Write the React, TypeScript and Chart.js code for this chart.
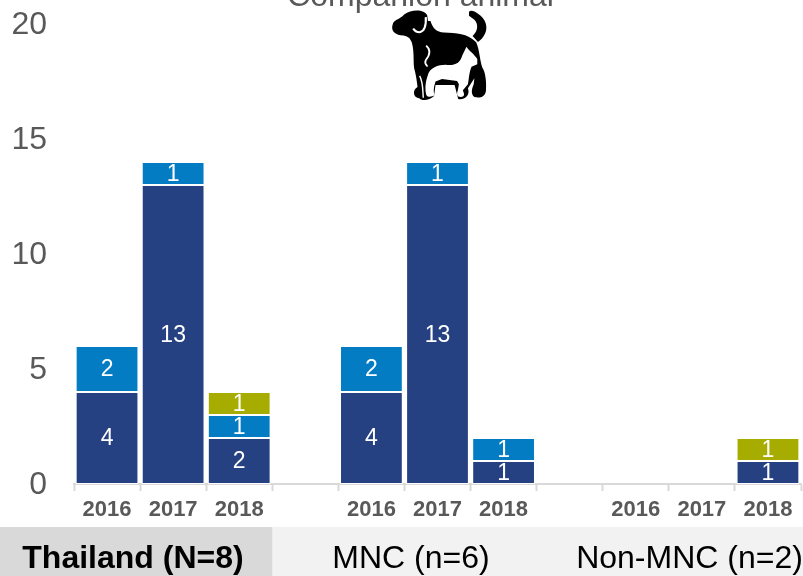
import React, { useEffect, useRef } from "react";
import { Chart, registerables } from "chart.js";

Chart.register(...registerables);

const categories = ["2016", "2017", "2018", "", "2016", "2017", "2018", "", "2016", "2017", "2018"];
const navyValues = [4, 13, 2, null, 4, 13, 1, null, null, null, 1];
const blueValues = [2, 1, 1, null, 2, 1, 1, null, null, null, null];
const oliveValues = [null, null, 1, null, null, null, null, null, null, null, 1];
const yTicks = [0, 5, 10, 15, 20];
const title = "Companion animal";
const groupLabels = ["Thailand (N=8)", "MNC (n=6)", "Non-MNC (n=2)"];

const FONT = '"Liberation Sans", Arial, sans-serif';

const decorPlugin = {
  id: "decor",
  beforeDraw(chart: any) {
    const { ctx } = chart;
    const x = chart.scales.x;
    const split = x.getPixelForValue(2) + (x.getPixelForValue(3) - x.getPixelForValue(2)) / 2;
    ctx.save();
    ctx.fillStyle = "#f2f2f2";
    ctx.fillRect(0, 527, 803, 49);
    ctx.fillStyle = "#d9d9d9";
    ctx.fillRect(0, 527, split, 49);
    ctx.textAlign = "center";
    ctx.textBaseline = "alphabetic";
    ctx.fillStyle = "#000000";
    ctx.font = `bold 32px ${FONT}`;
    ctx.fillText(groupLabels[0], 133, 568);
    ctx.font = `32px ${FONT}`;
    ctx.fillText(groupLabels[1], 411, 568);
    ctx.fillText(groupLabels[2], 689.5, 568);
    ctx.fillStyle = "#595959";
    ctx.fillText(title, 420.5, 6);
    ctx.restore();
  },
  afterDatasetsDraw(chart: any) {
    const { ctx } = chart;
    ctx.save();
    ctx.fillStyle = "#ffffff";
    ctx.font = `23px ${FONT}`;
    ctx.textAlign = "center";
    ctx.textBaseline = "middle";
    chart.data.datasets.forEach((ds: any, i: number) => {
      const meta = chart.getDatasetMeta(i);
      meta.data.forEach((bar: any, j: number) => {
        const v = ds.data[j];
        if (v == null) return;
        ctx.fillText(String(v), bar.x, (bar.y + bar.base) / 2 + 1);
      });
    });
    ctx.restore();
  },
};

export default function App() {
  const ref = useRef<HTMLCanvasElement>(null);
  useEffect(() => {
    document.body.style.margin = "0";
    const mk = (label: string, data: any[], color: string) => ({
      label,
      data,
      backgroundColor: color,
      borderColor: "#ffffff",
      borderWidth: 1,
      borderSkipped: false,
      categoryPercentage: 1,
      barPercentage: 0.95,
    });
    const chart = new Chart(ref.current as HTMLCanvasElement, {
      type: "bar",
      data: {
        labels: categories,
        datasets: [
          mk("A", navyValues, "#264182"),
          mk("B", blueValues, "#047cc4"),
          mk("C", oliveValues, "#a6ad00"),
        ],
      },
      options: {
        responsive: false,
        animation: false,
        layout: { padding: { top: 24, right: 2 } },
        plugins: { legend: { display: false }, title: { display: false }, tooltip: { enabled: false } },
        scales: {
          x: {
            stacked: true,
            afterFit(s: any) { s.height = 92; },
            border: { color: "#d9d9d9", width: 2 },
            grid: { drawOnChartArea: false, drawTicks: true, tickLength: 7, tickColor: "#d9d9d9", tickWidth: 2, offset: true },
            ticks: { color: "#595959", font: { family: FONT, size: 22, weight: "bold" }, padding: 6, maxRotation: 0, autoSkip: false },
          },
          y: {
            stacked: true,
            min: 0,
            max: 20,
            afterFit(s: any) { s.width = 74; s.paddingTop = 0; s.paddingBottom = 0; },
            afterBuildTicks(s: any) { s.ticks = yTicks.map((value) => ({ value })); },
            border: { display: false },
            grid: { display: false, drawTicks: false },
            ticks: { color: "#595959", font: { family: FONT, size: 32 }, padding: 27, labelOffset: 1.5 },
          },
        },
      },
      plugins: [decorPlugin],
    } as any);
    return () => chart.destroy();
  }, []);
  return (
    <div style={{ position: "relative", width: 803, height: 576, overflow: "hidden", background: "#fff" }}>
      <canvas ref={ref} width={803} height={576} style={{ display: "block" }} />
      <svg
        viewBox="1090 20 290 285"
        preserveAspectRatio="none"
        style={{ position: "absolute", left: 388.3, top: 6.6, width: 104.4, height: 95.8 }}
      >
        <path
          fill="#000"
          d="M1103 72 C1106 56 1122 58 1135 42 C1155 26 1192 26 1199 45 L1201 62 L1208 62 C1215 85 1225 95 1245 96 C1280 98 1310 98 1335 125 C1345 150 1345 180 1352 200 C1362 215 1364 250 1362 270 C1360 288 1345 292 1330 288 C1320 280 1322 265 1328 250 L1330 232 L1312 262 C1320 285 1300 298 1285 294 L1275 252 L1222 252 L1218 285 C1205 300 1180 298 1178 292 C1158 290 1158 265 1172 258 C1170 240 1168 225 1165 212 C1158 190 1165 160 1156 125 C1150 112 1148 106 1125 104 C1106 100 1098 88 1103 72 Z"
        />
        <path
          fill="#000"
          d="M1315 34 C1320 28 1330 32 1340 40 C1362 55 1368 80 1360 98 C1355 110 1348 118 1340 124 L1325 106 C1340 92 1342 72 1330 58 L1315 46 Z"
        />
        <path
          fill="#fff"
          d="M1308 138 C1315 150 1330 160 1338 175 L1338 190 L1322 198 C1315 215 1315 235 1312 250 L1298 268 C1302 280 1305 286 1292 288 C1282 288 1280 280 1284 268 L1287 250 L1282 240 L1240 234 L1222 242 C1216 262 1216 275 1220 282 C1212 288 1198 290 1196 280 C1192 260 1195 240 1200 225 C1205 200 1230 192 1250 192 C1275 195 1290 188 1296 165 Z"
        />
        <path fill="none" stroke="#fff" strokeWidth="6" d="M1195 50 C1196 70 1192 92 1178 95 C1170 95 1163 90 1160 84" />
        <path fill="none" stroke="#fff" strokeWidth="5" d="M1196 135 C1212 150 1205 165 1195 178 C1190 188 1196 192 1200 197" />
        <path fill="none" stroke="#fff" strokeWidth="4" d="M1178 225 C1188 245 1186 265 1188 290" />
      </svg>
    </div>
  );
}
